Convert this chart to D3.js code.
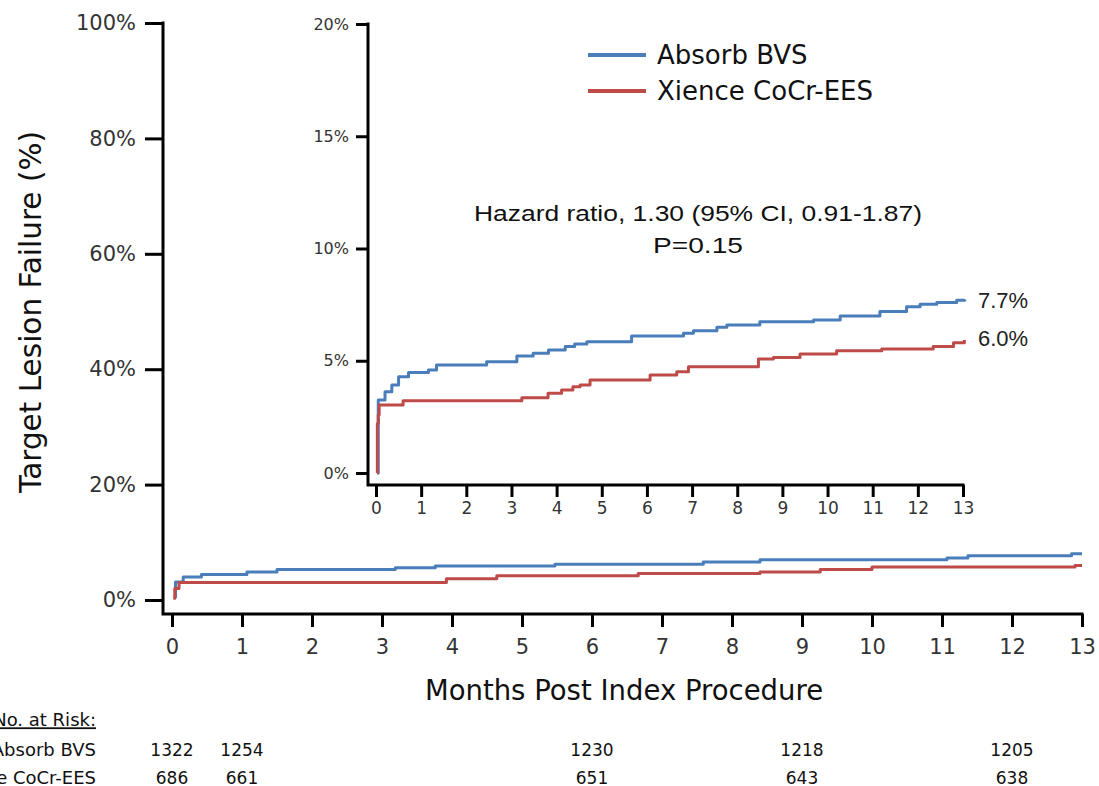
<!DOCTYPE html>
<html><head><meta charset="utf-8">
<script src="https://cdn.jsdelivr.net/npm/d3@7/dist/d3.min.js"></script>
<style>body{margin:0;background:#fff;} svg{display:block;}</style>
</head><body>
<svg id="c" width="1099" height="786"></svg>
<script>
// ---------- data ----------
const months = [0,1,2,3,4,5,6,7,8,9,10,11,12,13];
const mainYTicks = [0,20,40,60,80,100];
const insetYTicks = [0,5,10,15,20];
const seriesNames = ["Absorb BVS","Xience CoCr-EES"];
const seriesColors = ["#4a7ebb","#be4b48"];

// main panel curves (months, cumulative %)
const mainAbsorbT = [0.02,0.05,0.16,0.42,1.07,1.5,3.19,3.76,5.47,7.59,8.4,11.07,11.37,12.85,13.0];
const mainAbsorbV = [0.5,3.1,4.0,4.4,4.87,5.3,5.6,5.9,6.2,6.6,6.96,7.3,7.65,8.0,8.0];
const mainXienceT = [0.02,0.04,0.1,3.92,4.64,6.66,8.4,9.26,10.0,12.9,13.0];
const mainXienceV = [0.3,2.0,3.05,3.7,4.2,4.6,4.87,5.3,5.74,6.0,6.0];

// inset curves (months, cumulative %)
const insetAbsorbT = [0.03,0.05,0.2,0.35,0.5,0.72,1.16,1.34,2.45,3.12,3.48,3.82,4.19,4.4,4.67,5.66,6.81,7.03,7.55,7.77,8.5,9.69,10.28,11.16,11.75,12.05,12.42,12.86,13.04];
const insetAbsorbV = [0,3.25,3.62,3.92,4.29,4.48,4.59,4.81,4.96,5.21,5.33,5.48,5.63,5.75,5.85,6.1,6.22,6.34,6.49,6.59,6.74,6.81,6.99,7.19,7.41,7.52,7.59,7.7,7.73];
const insetXienceT = [0.02,0.03,0.05,0.07,0.6,3.23,3.81,4.11,4.36,4.52,4.74,6.07,6.66,6.92,8.47,8.8,9.39,10.2,11.2,12.34,12.79,13.03];
const insetXienceV = [0,2.2,2.6,3.03,3.22,3.35,3.55,3.7,3.84,3.92,4.14,4.37,4.51,4.73,5.08,5.15,5.3,5.45,5.52,5.63,5.8,5.92];

const finalLabels = ["7.7%","6.0%"];
const finalValues = [7.7,6.0];
const hazardText = ["Hazard ratio, 1.30 (95% CI, 0.91-1.87)","P=0.15"];

const riskMonths = [0,1,6,9,12];
const riskAbsorb = [1322,1254,1230,1218,1205];
const riskXience = [686,661,651,643,638];

// ---------- drawing ----------
const svg = d3.select("#c");
const SANS = "'DejaVu Sans', Verdana, sans-serif";
const ARI = "'Liberation Sans', Arial, sans-serif";
const AXC = "#000";

const x = d3.scaleLinear().domain([0,13]).range([172,1082]);
const y = d3.scaleLinear().domain([0,100]).range([600,23]);
const xi = d3.scaleLinear().domain([0,13]).range([376,963]);
const yi = d3.scaleLinear().domain([0,20]).range([473,24]);

function styleAxis(g, fs){
  g.select(".domain").remove();
  g.selectAll(".tick line").attr("stroke",AXC).attr("stroke-width",3);
  g.selectAll(".tick text").attr("fill","#333").style("font-family",SANS).style("font-size",fs+"px");
}

// main axes
const gy = svg.append("g").attr("transform","translate(163,0)")
  .call(d3.axisLeft(y).tickValues(mainYTicks).tickFormat(d=>d+"%").tickSize(18).tickPadding(9));
styleAxis(gy,21);
const gx = svg.append("g").attr("transform","translate(0,614)")
  .call(d3.axisBottom(x).tickValues(months).tickFormat(d3.format("d")).tickSize(13).tickPadding(12));
styleAxis(gx,21);
svg.append("path").attr("d",`M163,${y(100)-1.5}V614H${x(13)+1.5}`).attr("fill","none").attr("stroke",AXC).attr("stroke-width",3);

// inset axes
const giy = svg.append("g").attr("transform","translate(368,0)")
  .call(d3.axisLeft(yi).tickValues(insetYTicks).tickFormat(d=>d+"%").tickSize(12).tickPadding(7));
styleAxis(giy,16);
const gix = svg.append("g").attr("transform","translate(0,485)")
  .call(d3.axisBottom(xi).tickValues(months).tickFormat(d3.format("d")).tickSize(12).tickPadding(5));
styleAxis(gix,17);
svg.append("path").attr("d",`M368,${yi(20)-1.5}V485H${xi(13)+1.5}`).attr("fill","none").attr("stroke",AXC).attr("stroke-width",3);

// curves
function drawCurve(xs, ys, T, V, color){
  const pts = T.map((t,i)=>[t,V[i]]);
  const line = d3.line().x(d=>xs(d[0])).y(d=>ys(d[1])).curve(d3.curveStepAfter);
  svg.append("path").datum(pts).attr("d",line).attr("fill","none")
    .attr("stroke",color).attr("stroke-width",3).attr("stroke-linejoin","round");
}
drawCurve(x,y,mainAbsorbT,mainAbsorbV,seriesColors[0]);
drawCurve(x,y,mainXienceT,mainXienceV,seriesColors[1]);
drawCurve(xi,yi,insetAbsorbT,insetAbsorbV,seriesColors[0]);
drawCurve(xi,yi,insetXienceT,insetXienceV,seriesColors[1]);

// end labels
finalLabels.forEach((lab,i)=>{
  svg.append("text").attr("x",xi(13)+15).attr("y",yi(finalValues[i])).attr("dy","0.35em")
    .style("font-family",ARI).style("font-size","22px").attr("fill","#222").text(lab);
});

// hazard text
const hazardWidths = [448, 90];
hazardText.forEach((t,i)=>{
  svg.append("text").attr("x",698).attr("y",213+i*32).attr("dy","0.35em").attr("text-anchor","middle")
    .attr("textLength",hazardWidths[i]).attr("lengthAdjust","spacingAndGlyphs")
    .style("font-family",ARI).style("font-size","22px").attr("fill","#111").text(t);
});

// legend
seriesNames.forEach((n,i)=>{
  const ly = 55 + i*36;
  svg.append("line").attr("x1",588).attr("x2",646).attr("y1",ly).attr("y2",ly)
    .attr("stroke",seriesColors[i]).attr("stroke-width",4);
  svg.append("text").attr("x",657).attr("y",ly).attr("dy","0.35em")
    .style("font-family",SANS).style("font-size","26px").attr("fill","#111").text(n);
});

// axis titles
svg.append("text").attr("x",624).attr("y",690).attr("dy","0.35em").attr("text-anchor","middle")
  .style("font-family",SANS).style("font-size","27.5px").attr("fill","#111").text("Months Post Index Procedure");
svg.append("text").attr("transform","translate(31,312) rotate(-90)").attr("dy","0.35em").attr("text-anchor","middle")
  .style("font-family",SANS).style("font-size","29.5px").attr("fill","#111").text("Target Lesion Failure (%)");

// risk table
svg.append("text").attr("x",96).attr("y",720).attr("dy","0.35em").attr("text-anchor","end")
  .style("font-family",SANS).style("font-size","18px").attr("fill","#111")
  .style("text-decoration","underline").text("No. at Risk:");
[["Absorb BVS",riskAbsorb,750],["Xience CoCr-EES",riskXience,778]].forEach(([lab,vals,ry])=>{
  svg.append("text").attr("x",96).attr("y",ry).attr("dy","0.35em").attr("text-anchor","end")
    .style("font-family",SANS).style("font-size","18px").attr("fill","#111").text(lab);
  vals.forEach((v,i)=>{
    svg.append("text").attr("x",x(riskMonths[i])).attr("y",ry).attr("dy","0.35em").attr("text-anchor","middle")
      .style("font-family",SANS).style("font-size","17px").attr("fill","#111").text(v);
  });
});
</script>
</body></html>
